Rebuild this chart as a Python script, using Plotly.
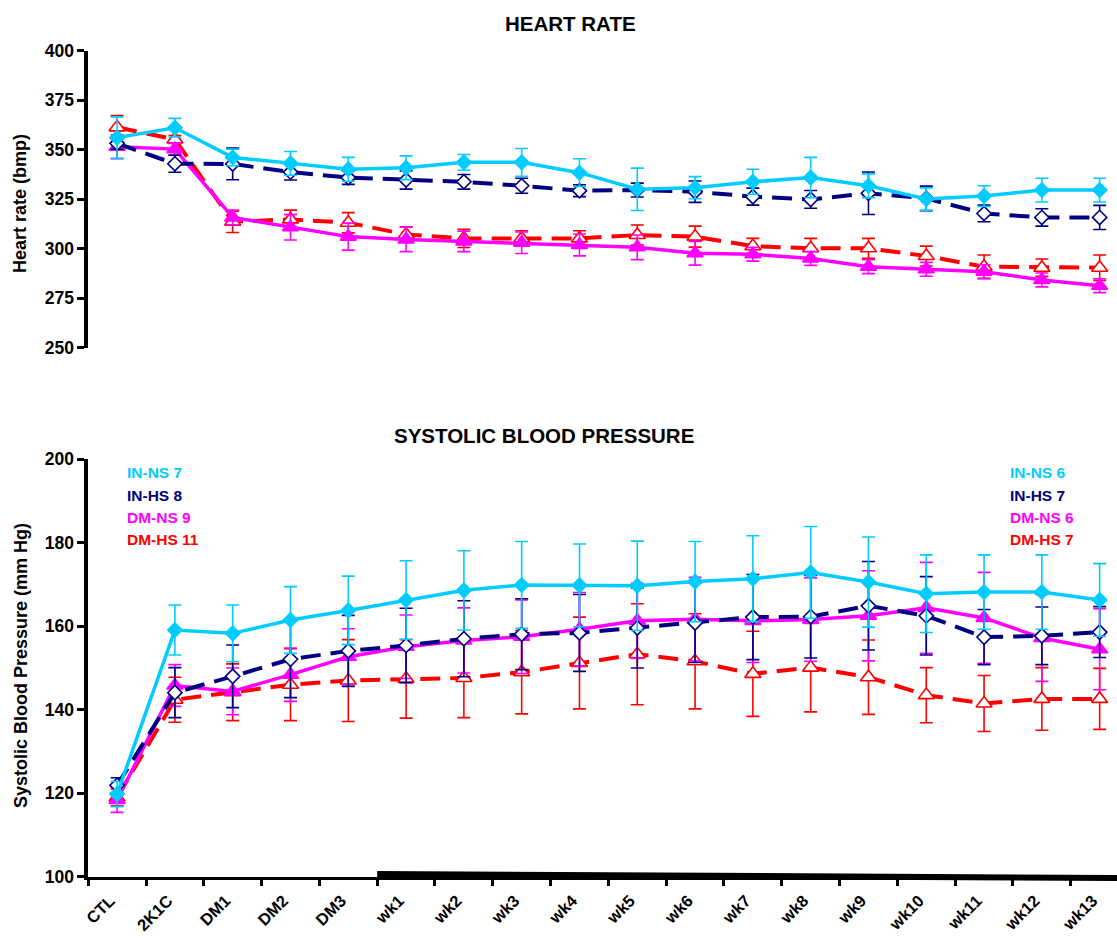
import plotly.graph_objects as go

categories = ["CTL", "2K1C", "DM1", "DM2", "DM3", "wk1", "wk2", "wk3", "wk4", "wk5",
              "wk6", "wk7", "wk8", "wk9", "wk10", "wk11", "wk12", "wk13"]

# Heart rate (bmp), mean and SE
hr_in_ns = [356.1, 361.1, 346.1, 343.1, 340.1, 340.9, 343.6, 343.6, 338.4, 330.0,
            330.8, 333.8, 335.9, 331.8, 325.1, 326.6, 329.6, 329.6]
hr_in_ns_err = [10.5, 4.7, 4.2, 6, 6, 6, 4, 7, 7, 10.7, 5.6, 6.3, 10.2, 6, 5.6, 5.2, 6, 6]
hr_in_hs = [353.2, 342.9, 342.8, 338.7, 335.9, 334.7, 333.8, 331.8, 329.3, 329.6,
            328.8, 326.3, 324.9, 328.0, 325.4, 317.8, 315.8, 315.8]
hr_in_hs_err = [3, 4.3, 8, 4, 3.4, 4.6, 3.7, 3.8, 3, 3.5, 5.4, 4.3, 4.5, 10.7, 6.2, 4.2, 4.4, 6.1]
hr_dm_ns = [351.5, 350.3, 315.8, 310.8, 306.1, 304.7, 303.7, 303.0, 301.9, 300.7,
            297.7, 297.2, 295.1, 290.9, 289.6, 288.4, 284.2, 281.3]
hr_dm_ns_err = [6, 3, 3.7, 6.4, 6.8, 6.2, 5.2, 5.4, 5.5, 6.2, 6, 3.5, 3.5, 3.5, 3.5, 3.5, 3.5, 3.5]
hr_dm_hs = [361.3, 355.2, 313.6, 314.8, 313.1, 307.2, 305.2, 305.2, 305.2, 306.9,
            306.1, 301.3, 300.2, 300.2, 296.3, 290.9, 290.4, 290.4]
hr_dm_hs_err = [6, 2, 5.4, 4.7, 5.1, 3.9, 4.6, 3.9, 3.9, 5.1, 5.3, 3.9, 5, 5, 5, 5.9, 4.4, 6.4]

# Systolic blood pressure (mm Hg), mean and SE
sbp_in_ns = [119.8, 159.1, 158.3, 161.5, 163.8, 166.3, 168.6, 169.9, 169.8, 169.7,
             170.7, 171.4, 172.9, 170.6, 167.8, 168.2, 168.2, 166.3]
sbp_in_ns_err = [3, 6, 6.8, 8, 8.2, 9.4, 9.5, 10.4, 9.9, 10.7, 9.6, 10.3, 11, 10.8, 9.3, 8.9, 8.9, 8.7]
sbp_in_hs = [121.9, 144.1, 148.0, 152.1, 154.1, 155.4, 157.0, 158.1, 158.4, 159.6,
             160.8, 162.2, 162.3, 164.9, 162.5, 157.4, 157.7, 158.6]
sbp_in_hs_err = [1.8, 6, 7.5, 9.2, 8.5, 8.9, 9.1, 8.5, 9.2, 9.6, 9.5, 10.2, 9.9, 10.6, 9.4, 6.6, 6.9, 6.1]
sbp_dm_ns = [118.4, 145.8, 144.4, 148.4, 152.7, 155.1, 156.6, 157.5, 159.3, 161.3,
             161.7, 161.3, 161.6, 162.5, 164.4, 162.0, 157.2, 154.5]
sbp_dm_ns_err = [3, 5, 5.6, 6.4, 6.7, 7.6, 7.8, 8.8, 8.8, 9, 10, 10, 10, 10.8, 10.9, 10.9, 10.4, 9.7]
sbp_dm_hs = [119.0, 142.4, 144.2, 146.0, 147.0, 147.4, 147.6, 149.0, 151.2, 153.3,
             151.6, 148.6, 150.1, 147.8, 143.5, 141.5, 142.6, 142.6]
sbp_dm_hs_err = [2, 5.4, 6.8, 8.6, 9.8, 9.4, 9.5, 10, 11, 12.1, 11.4, 10.2, 10.6, 8.9, 6.6, 6.7, 7.5, 7.3]

legend_left = ["IN-NS 7", "IN-HS 8", "DM-NS 9", "DM-HS 11"]
legend_right = ["IN-NS 6", "IN-HS 7", "DM-NS 6", "DM-HS 7"]

CYAN = "#00CCFF"
NAVY = "#000080"
MAG = "#FF00FF"
RED = "#FF0000"
FONT = "Liberation Sans"

styles = {
    "DM-HS": dict(color=RED, dash="20px,10px", width=4, symbol="triangle-up", size=14, fill="white"),
    "DM-NS": dict(color=MAG, dash="solid", width=3.5, symbol="triangle-up", size=14, fill=MAG),
    "IN-HS": dict(color=NAVY, dash="20px,10px", width=4, symbol="diamond", size=11, fill="white"),
    "IN-NS": dict(color=CYAN, dash="solid", width=3.5, symbol="diamond", size=11, fill=CYAN),
}

hr_series = [("DM-HS", hr_dm_hs, hr_dm_hs_err), ("DM-NS", hr_dm_ns, hr_dm_ns_err),
             ("IN-HS", hr_in_hs, hr_in_hs_err), ("IN-NS", hr_in_ns, hr_in_ns_err)]
sbp_series = [("DM-HS", sbp_dm_hs, sbp_dm_hs_err), ("DM-NS", sbp_dm_ns, sbp_dm_ns_err),
              ("IN-HS", sbp_in_hs, sbp_in_hs_err), ("IN-NS", sbp_in_ns, sbp_in_ns_err)]

fig = go.Figure()


def add(name, y, err, xa, ya):
    s = styles[name]
    fig.add_trace(go.Scatter(
        x=categories, y=y, name=name, xaxis=xa, yaxis=ya, mode="lines+markers",
        line=dict(color=s["color"], width=s["width"], dash=s["dash"]),
        marker=dict(symbol=s["symbol"], size=s["size"], color=s["fill"],
                    line=dict(color=s["color"], width=1.6)),
        error_y=dict(type="data", array=err, visible=True, color=s["color"],
                     thickness=1.6, width=6.5),
        showlegend=False, cliponaxis=False))


for n, y, e in hr_series:
    add(n, y, e, "x", "y")
for n, y, e in sbp_series:
    add(n, y, e, "x2", "y2")

H = 938.0
W = 1117.0
xdom = [88.2 / W, 1.0]
xrange_ = [-0.5, 17.3]
top_dom = [1 - 347.7 / H, 1 - 50.7 / H]
bot_dom = [1 - 876.7 / H, 1 - 459.3 / H]

tickfont_y = dict(family=FONT, size=17.5, color="black", weight="bold")
tickfont_x = dict(family=FONT, size=16.5, color="black", weight="bold")

fig.update_layout(
    width=1117, height=938,
    margin=dict(l=0, r=0, t=0, b=0),
    paper_bgcolor="white", plot_bgcolor="white",
    xaxis=dict(domain=xdom, anchor="y", type="category", categoryorder="array",
               categoryarray=categories, range=xrange_, showline=False,
               showticklabels=False, ticks="", showgrid=False, zeroline=False),
    yaxis=dict(domain=top_dom, anchor="x", range=[250, 400], dtick=25, tick0=250,
               showline=True, linecolor="black", linewidth=3.5, ticks="outside",
               ticklen=7, tickwidth=2.5, tickcolor="black", tickfont=tickfont_y,
               showgrid=False, zeroline=False, automargin=False),
    xaxis2=dict(domain=xdom, anchor="y2", type="category", categoryorder="array",
                categoryarray=categories, range=xrange_, showline=True,
                linecolor="black", linewidth=3, ticks="outside", tickson="boundaries",
                ticklen=6, tickwidth=2.5, tickcolor="black", tickangle=-45,
                ticklabelstandoff=5, ticklabelshift=-7,
                tickfont=tickfont_x, showgrid=False, zeroline=False, automargin=False),
    yaxis2=dict(domain=bot_dom, anchor="x2", range=[100, 200], dtick=20, tick0=100,
                showline=True, linecolor="black", linewidth=3.5, ticks="outside",
                ticklen=7, tickwidth=2.5, tickcolor="black", tickfont=tickfont_y,
                showgrid=False, zeroline=False, automargin=False),
)

# treatment-period bar along the x axis (from wk1 to the end)
fig.add_shape(type="path", xref="x2", yref="paper",
              path=f"M 4.5 {1 - 871/H} L 17.3 {1 - 875/H} L 17.3 {1 - 881/H} L 4.5 {1 - 877.5/H} Z",
              fillcolor="black", line=dict(width=0), layer="above")

ann = []
ann.append(dict(text="<b>HEART RATE</b>", x=570 / W, y=1 - 23.5 / H, xref="paper", yref="paper",
                showarrow=False, font=dict(family=FONT, size=20.5, color="black"),
                xanchor="center", yanchor="middle"))
ann.append(dict(text="<b>SYSTOLIC BLOOD PRESSURE</b>", x=544 / W, y=1 - 435 / H, xref="paper",
                yref="paper", showarrow=False, font=dict(family=FONT, size=20.5, color="black"),
                xanchor="center", yanchor="middle"))
ann.append(dict(text="<b>Heart rate (bmp)</b>", x=20 / W, y=1 - 204 / H, xref="paper", yref="paper",
                showarrow=False, textangle=-90, font=dict(family=FONT, size=18, color="black"),
                xanchor="center", yanchor="middle"))
ann.append(dict(text="<b>Systolic Blood Pressure (mm Hg)</b>", x=21 / W, y=1 - 666 / H,
                xref="paper", yref="paper", showarrow=False, textangle=-90,
                font=dict(family=FONT, size=18, color="black"),
                xanchor="center", yanchor="middle"))

leg_colors = [CYAN, NAVY, MAG, RED]
leg_y = [472, 495, 517, 539]
for i in range(4):
    ann.append(dict(text=f"<b>{legend_left[i]}</b>", x=125 / W, y=1 - leg_y[i] / H, xref="paper",
                    yref="paper", showarrow=False, xanchor="left", yanchor="middle",
                    font=dict(family=FONT, size=15.5, color=leg_colors[i])))
    ann.append(dict(text=f"<b>{legend_right[i]}</b>", x=1008 / W, y=1 - leg_y[i] / H, xref="paper",
                    yref="paper", showarrow=False, xanchor="left", yanchor="middle",
                    font=dict(family=FONT, size=15.5, color=leg_colors[i])))
fig.update_layout(annotations=ann)

fig.write_html("out.html")
